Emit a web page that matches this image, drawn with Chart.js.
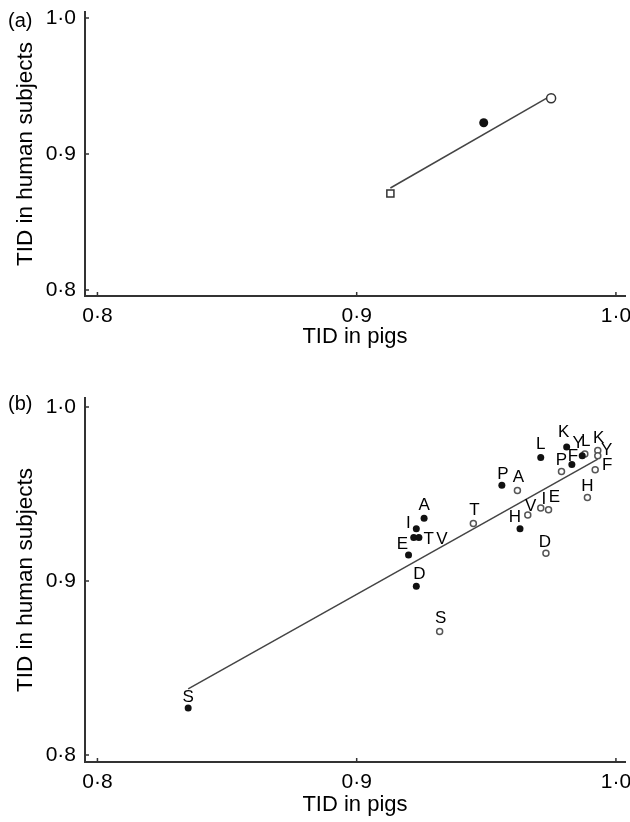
<!DOCTYPE html>
<html>
<head>
<meta charset="utf-8">
<script src="https://cdn.jsdelivr.net/npm/chart.js@4.4.1/dist/chart.umd.min.js"></script>
<style>
  html, body { margin: 0; padding: 0; background: #fff; width: 630px; height: 822px; overflow: hidden; }
  canvas { position: absolute; left: 0; }
  .tag { position: absolute; left: 8px; font: 20px 'Liberation Sans', Arial, sans-serif; color: #000; line-height: 22px; }
</style>
</head>
<body>
<canvas id="chart-a" width="660" height="350" style="top:0"></canvas>
<div class="tag" style="top:9px">(a)</div>
<canvas id="chart-b" width="660" height="442" style="top:380px"></canvas>
<div class="tag" style="top:392px">(b)</div>
<script>
const FONT = "'Liberation Sans', Arial, sans-serif";

// Panel (a): square, filled circle, open circle
const aPigs = [0.913, 0.949, 0.975];
const aHuman = [0.871, 0.923, 0.941];
const aFitPigs = [0.913, 0.976];
const aFitHuman = [0.875, 0.944];

// Panel (b): amino acids
const aminoAcids = ['S', 'D', 'E', 'T', 'V', 'I', 'A', 'H', 'P', 'L', 'K', 'Y', 'F'];
const pigsFilled = [0.835, 0.923, 0.920, 0.922, 0.924, 0.923, 0.926, 0.963, 0.956, 0.971, 0.981, 0.987, 0.983];
const humanFilled = [0.827, 0.897, 0.915, 0.925, 0.925, 0.930, 0.936, 0.930, 0.955, 0.971, 0.977, 0.972, 0.967];
const pigsOpen = [0.932, 0.973, 0.974, 0.945, 0.966, 0.971, 0.962, 0.989, 0.979, 0.988, 0.993, 0.993, 0.992];
const humanOpen = [0.871, 0.916, 0.941, 0.933, 0.938, 0.942, 0.952, 0.948, 0.963, 0.973, 0.975, 0.972, 0.964];
const bFitPigs = [0.835, 0.993];
const bFitHuman = [0.838, 0.970];

const tickValues = [0.8, 0.9, 1.0];

// label placement next to each point (px), same order as aminoAcids
const offsetsFilled = [[0, -11], [3, -12], [-6, -11], [15, 2], [23, 2], [-8, -5], [0, -13], [-5, -11], [1, -11], [0, -13], [-3, -15], [-4, -12], [1, -8]];
const offsetsOpen = [[1, -13], [-1, -11], [6, -12], [1, -13], [3, -9], [3, -9], [1, -13], [0, -11], [0, -11], [1, -13], [1, -12], [9, -5], [12, -4]];

const toPoints = (xs, ys) => xs.map((x, i) => ({ x: x, y: ys[i] }));
const fmt = v => v.toFixed(1).replace('.', '\u00b7');

const innerTicks = {
  id: 'innerTicks',
  afterDatasetsDraw(chart) {
    const { ctx, chartArea: a, scales: { x, y } } = chart;
    ctx.save();
    ctx.strokeStyle = '#333';
    ctx.lineWidth = 1.5;
    ctx.beginPath();
    tickValues.forEach(v => {
      const px = x.getPixelForValue(v);
      ctx.moveTo(px, a.bottom);
      ctx.lineTo(px, a.bottom - 4);
      const py = y.getPixelForValue(v);
      ctx.moveTo(a.left, py);
      ctx.lineTo(a.left + 4, py);
    });
    ctx.stroke();
    ctx.restore();
  }
};

const pointLabels = {
  id: 'pointLabels',
  afterDatasetsDraw(chart) {
    const ctx = chart.ctx;
    ctx.save();
    ctx.font = '17px ' + FONT;
    ctx.fillStyle = '#000';
    ctx.textAlign = 'center';
    ctx.textBaseline = 'middle';
    chart.data.datasets.forEach((ds, i) => {
      if (!ds.pointText) return;
      chart.getDatasetMeta(i).data.forEach((pt, j) => {
        const off = ds.textOffsets[j];
        ctx.fillText(ds.pointText[j], pt.x + off[0], pt.y + off[1]);
      });
    });
    ctx.restore();
  }
};

function axis(min, max, title, size, titleSize, titlePad, tickPad) {
  return {
    type: 'linear',
    min: min,
    max: max,
    afterBuildTicks: s => { s.ticks = tickValues.map(v => ({ value: v })); },
    afterFit: s => {
      if (s.isHorizontal()) s.height = size; else s.width = size;
      s.paddingTop = s.paddingBottom = s.paddingLeft = s.paddingRight = 0;
    },
    grid: { display: false, drawTicks: false },
    border: { display: true, color: '#333', width: 2 },
    ticks: { color: '#000', padding: tickPad, maxRotation: 0, autoSkip: false, font: { size: 21, family: FONT }, callback: fmt },
    title: { display: true, text: title, color: '#000', font: { size: titleSize, family: FONT }, padding: titlePad }
  };
}

function makeChart(id, datasets, yMin, yMax, padTop, xHeight, xTitlePad) {
  return new Chart(document.getElementById(id), {
    type: 'scatter',
    data: { datasets: datasets },
    options: {
      responsive: false,
      animation: false,
      layout: { padding: { left: 0, top: padTop, right: 35, bottom: 0 } },
      plugins: { legend: { display: false }, tooltip: { enabled: false } },
      scales: {
        x: axis(0.7952, 1.0035, 'TID in pigs', xHeight, 22, { top: 0, bottom: xTitlePad }, 8),
        y: axis(yMin, yMax, 'TID in human subjects', 85, 22.5, { top: 12, bottom: 0 }, 9)
      }
    },
    plugins: [innerTicks, pointLabels]
  });
}

const fitStyle = { type: 'line', borderColor: '#444', borderWidth: 1.5, pointRadius: 0, fill: false };

makeChart('chart-a', [
  { data: toPoints(aPigs.slice(0, 1), aHuman.slice(0, 1)), pointStyle: 'rect', pointRadius: 5, backgroundColor: '#fff', borderColor: '#333', borderWidth: 1.5 },
  { data: toPoints(aPigs.slice(1, 2), aHuman.slice(1, 2)), pointRadius: 4.5, backgroundColor: '#111', borderColor: '#111', borderWidth: 0 },
  { data: toPoints(aPigs.slice(2, 3), aHuman.slice(2, 3)), pointRadius: 4.5, backgroundColor: '#fff', borderColor: '#333', borderWidth: 1.5 },
  Object.assign({ data: toPoints(aFitPigs, aFitHuman) }, fitStyle)
], 0.7956, 1.0044, 12, 54, 0);

makeChart('chart-b', [
  { data: toPoints(pigsFilled, humanFilled), pointRadius: 3.5, backgroundColor: '#111', borderColor: '#111', borderWidth: 0,
    pointText: aminoAcids, textOffsets: offsetsFilled },
  { data: toPoints(pigsOpen, humanOpen), pointRadius: 3, backgroundColor: '#fff', borderColor: '#555', borderWidth: 1.5,
    pointText: aminoAcids, textOffsets: offsetsOpen },
  Object.assign({ data: toPoints(bFitPigs, bFitHuman) }, fitStyle)
], 0.79598, 1.00517, 18, 60, 4);
</script>
</body>
</html>
